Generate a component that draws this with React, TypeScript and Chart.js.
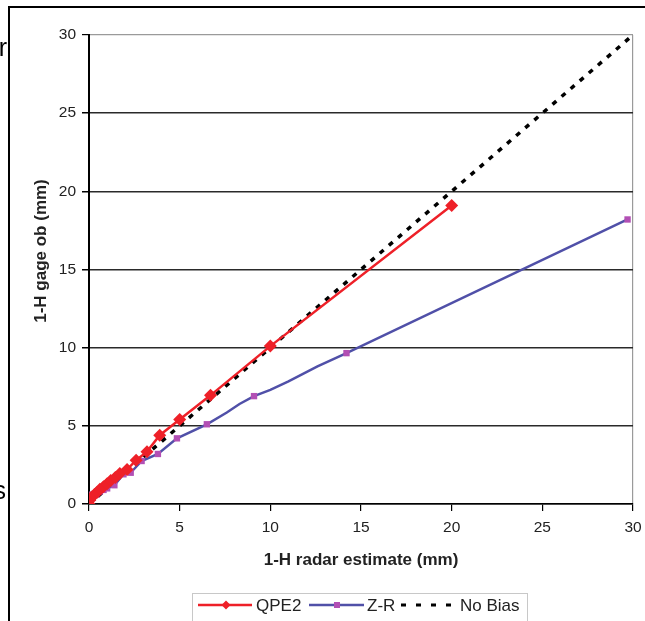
import React, { useEffect, useRef } from "react";
import { Chart, registerables } from "chart.js";

Chart.register(...registerables);

// ---- data ----
const qpeX = [0, 0.05, 0.15, 0.3, 0.45, 0.6, 0.8, 1.0, 1.2, 1.45, 1.7, 2.1, 2.6, 3.2, 3.9, 5.0, 6.7, 10.0, 20.0];
const qpeY = [0, 0.25, 0.45, 0.6, 0.75, 0.95, 1.1, 1.3, 1.5, 1.7, 1.95, 2.2, 2.8, 3.35, 4.4, 5.4, 6.95, 10.1, 19.1];

const zrX = [0, 0.05, 0.2, 0.4, 0.6, 0.8, 1.0, 1.4, 1.9, 2.3, 2.9, 3.8, 4.85, 6.5, 7.6, 8.3, 9.1, 10.0, 11.0, 12.6, 14.2, 29.7];
const zrY = [0.6, 0.3, 0.4, 0.6, 0.8, 0.9, 1.0, 1.2, 1.9, 2.0, 2.75, 3.2, 4.2, 5.1, 5.85, 6.4, 6.9, 7.3, 7.85, 8.8, 9.65, 18.2];
const zrMarker = [1, 1, 1, 1, 1, 1, 1, 1, 1, 1, 1, 1, 1, 1, 0, 0, 1, 0, 0, 0, 1, 1];

const biasX = [0, 30];
const biasY = [0, 30];

const tickValues = [0, 5, 10, 15, 20, 25, 30];
const xTitle = "1-H radar estimate (mm)";
const yTitle = "1-H gage ob (mm)";
const legendLabels = ["QPE2", "Z-R", "No Bias"];

const RED = "#ee2028";
const BLUE = "#5050a8";
const PURPLE = "#b24fb4";
const FONT = "'Liberation Sans', Arial, sans-serif";

const toPts = (xs: number[], ys: number[]) => xs.map((x, i) => ({ x, y: ys[i] }));

const decorPlugin = {
  id: "decor",
  beforeDraw(chart: any) {
    const ctx = chart.ctx;
    ctx.save();
    ctx.fillStyle = "#fff";
    ctx.fillRect(0, 0, chart.width, chart.height);
    // outer frame
    ctx.strokeStyle = "#000";
    ctx.lineWidth = 2;
    ctx.beginPath();
    ctx.moveTo(9, chart.height);
    ctx.lineTo(9, 7);
    ctx.lineTo(chart.width, 7);
    ctx.stroke();
    // stray page letters
    ctx.fillStyle = "#000";
    ctx.font = `25px ${FONT}`;
    ctx.textAlign = "right";
    ctx.textBaseline = "alphabetic";
    ctx.fillText("r", 7, 56);
    ctx.fillText("s", 6, 499);
    ctx.restore();
  },
  afterDraw(chart: any) {
    const ctx = chart.ctx;
    const area = chart.chartArea;
    ctx.save();
    // axis titles
    ctx.fillStyle = "#222";
    ctx.font = `bold 17px ${FONT}`;
    ctx.textAlign = "center";
    ctx.textBaseline = "middle";
    ctx.fillText(xTitle, (area.left + area.right) / 2, 560);
    ctx.save();
    ctx.translate(41, 251);
    ctx.rotate(-Math.PI / 2);
    ctx.fillText(yTitle, 0, 0);
    ctx.restore();

    // legend
    ctx.strokeStyle = "#c8c8c8";
    ctx.lineWidth = 1;
    ctx.strokeRect(192.5, 593.5, 335, 40);
    const ly = 605;
    ctx.font = `17px ${FONT}`;
    ctx.textAlign = "left";
    // QPE2
    ctx.strokeStyle = RED;
    ctx.lineWidth = 2.5;
    ctx.beginPath();
    ctx.moveTo(198, ly);
    ctx.lineTo(252, ly);
    ctx.stroke();
    ctx.fillStyle = RED;
    ctx.beginPath();
    ctx.moveTo(226, ly - 4.5);
    ctx.lineTo(230.5, ly);
    ctx.lineTo(226, ly + 4.5);
    ctx.lineTo(221.5, ly);
    ctx.closePath();
    ctx.fill();
    ctx.fillStyle = "#222";
    ctx.fillText(legendLabels[0], 256, ly + 1);
    // Z-R
    ctx.strokeStyle = BLUE;
    ctx.beginPath();
    ctx.moveTo(309, ly);
    ctx.lineTo(364, ly);
    ctx.stroke();
    ctx.fillStyle = PURPLE;
    ctx.fillRect(334, ly - 3, 6, 6);
    ctx.fillStyle = "#222";
    ctx.fillText(legendLabels[1], 367, ly + 1);
    // No Bias
    ctx.strokeStyle = "#000";
    ctx.lineWidth = 3;
    ctx.setLineDash([5, 10]);
    ctx.beginPath();
    ctx.moveTo(401, ly);
    ctx.lineTo(458, ly);
    ctx.stroke();
    ctx.setLineDash([]);
    ctx.fillText(legendLabels[2], 460, ly + 1);
    ctx.restore();
  },
};

export default function App() {
  const ref = useRef<HTMLCanvasElement | null>(null);

  useEffect(() => {
    if (!ref.current) return;
    const chart = new Chart(ref.current, {
      type: "scatter",
      data: {
        datasets: [
          {
            label: legendLabels[2],
            data: toPts(biasX, biasY),
            showLine: true,
            borderColor: "#000",
            borderWidth: 3.5,
            borderDash: [5, 7],
            pointRadius: 0,
            order: 3,
          },
          {
            label: legendLabels[1],
            data: toPts(zrX, zrY),
            showLine: true,
            borderColor: BLUE,
            borderWidth: 2.5,
            pointStyle: "rect",
            pointRadius: zrMarker.map((m) => (m ? 4.5 : 0)),
            pointBackgroundColor: PURPLE,
            pointBorderColor: PURPLE,
            pointBorderWidth: 0,
            order: 2,
          },
          {
            label: legendLabels[0],
            data: toPts(qpeX, qpeY),
            showLine: true,
            borderColor: RED,
            borderWidth: 2.5,
            pointStyle: "rectRot",
            pointRadius: 6.5,
            pointBackgroundColor: RED,
            pointBorderColor: RED,
            pointBorderWidth: 0,
            order: 1,
          },
        ],
      },
      options: {
        responsive: false,
        animation: false,
        layout: { padding: { left: 0, top: 35, right: 12, bottom: 0 } },
        plugins: {
          legend: { display: false },
          tooltip: { enabled: false },
        },
        scales: {
          x: {
            type: "linear",
            min: 0,
            max: 30,
            afterBuildTicks: (s: any) => {
              s.ticks = tickValues.map((v) => ({ value: v }));
            },
            afterFit: (s: any) => {
              s.height = 117;
              s.paddingLeft = 0;
              s.paddingRight = 0;
            },
            ticks: {
              color: "#222",
              font: { family: FONT, size: 15.5 },
              padding: 7,
            },
            grid: {
              drawOnChartArea: true,
              color: (c: any) => (c.tick && c.tick.value === 30 ? "#9a9a9a" : "rgba(0,0,0,0)"),
              tickColor: "#000",
              tickLength: 7,
              lineWidth: 1.2,
            },
            border: { color: "#000", width: 1.5 },
          },
          y: {
            type: "linear",
            min: 0,
            max: 30,
            afterBuildTicks: (s: any) => {
              s.ticks = tickValues.map((v) => ({ value: v }));
            },
            afterFit: (s: any) => {
              s.width = 89;
              s.paddingTop = 0;
              s.paddingBottom = 0;
            },
            ticks: {
              color: "#222",
              font: { family: FONT, size: 15.5 },
              padding: 6,
            },
            grid: {
              color: (c: any) => (c.tick && c.tick.value === 30 ? "#9a9a9a" : "#2a2a2a"),
              tickColor: "#000",
              tickLength: 7,
              lineWidth: (c: any) => (c.tick && c.tick.value === 30 ? 1.2 : 1.5),
            },
            border: { color: "#000", width: 2 },
          },
        },
      },
      plugins: [decorPlugin],
    } as any);
    return () => chart.destroy();
  }, []);

  return (
    <div style={{ position: "absolute", left: 0, top: 0, width: 645, height: 621, background: "#fff" }}>
      <canvas ref={ref} width={645} height={621} style={{ display: "block", width: 645, height: 621 }} />
    </div>
  );
}
